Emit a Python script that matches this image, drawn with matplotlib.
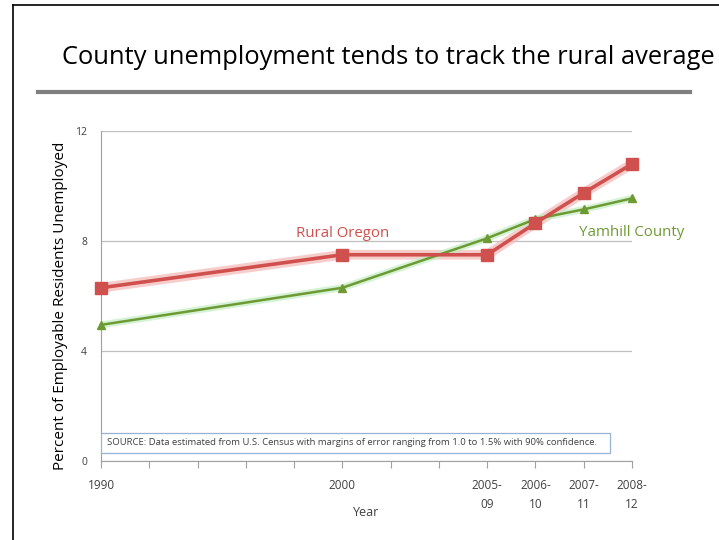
import matplotlib

matplotlib.use("Agg")
from matplotlib import pyplot as plt
from matplotlib.patches import Rectangle
from matplotlib.lines import Line2D

# category slots on the x axis (Excel-style axis with blank slots)
slot_labels = ["1990", "", "", "", "", "2000", "", "", "2005-\n09", "2006-\n10", "2007-\n11", "2008-\n12"]
year_slots = [0, 5, 8, 9, 10, 11]

rural_oregon = [6.3, 7.5, 7.5, 8.65, 9.75, 10.8]
yamhill_county = [4.95, 6.3, 8.1, 8.8, 9.15, 9.55]

y_ticks = [0, 4, 8, 12]

RED = "#D0504D"
RED_GLOW = "#F4B8B6"
GREEN = "#6E9A34"
GREEN_GLOW = "#C2EFC2"
FONT = ["Open Sans", "DejaVu Sans"]

plt.rcParams["font.family"] = FONT

fig = plt.figure(figsize=(7.19, 5.4), dpi=100)
W, H = 719, 540

# slide border (top and left edges)
fig.add_artist(Line2D([13 / W, 1], [1 - 5 / H, 1 - 5 / H], color="black", lw=1.2))
fig.add_artist(Line2D([13 / W, 13 / W], [0, 1 - 5 / H], color="black", lw=1.2))

# the slide title runs past the right edge in the original screenshot
fig.text(62 / W, 1 - 58 / H, "County unemployment tends to track the rural average",
         fontsize=18.4, color="black", va="center", ha="left")
fig.add_artist(Line2D([38 / W, 690 / W], [1 - 92 / H, 1 - 92 / H], color="#7F7F7F", lw=3))

ax = fig.add_axes([101 / W, 1 - 461 / H, (632 - 101) / W, (461 - 131) / H])

ax.set_xlim(0, len(slot_labels) - 1)
ax.set_ylim(0, 12)

ax.set_yticks(y_ticks)
ax.set_yticklabels([str(v) for v in y_ticks], fontsize=7.5, color="#404040")
ax.yaxis.grid(True, color="#BFBFBF", lw=0.9)
ax.set_axisbelow(True)

ax.set_xticks(range(len(slot_labels)))
ax.set_xticklabels(slot_labels, fontsize=8.5, color="#404040", linespacing=1.6, va="top")
ax.tick_params(axis="x", length=5, color="#A0A0A0", pad=8)
ax.tick_params(axis="y", length=0, pad=10)

for side in ["top", "right"]:
    ax.spines[side].set_visible(False)
for side in ["left", "bottom"]:
    ax.spines[side].set_color("#A0A0A0")

# glow under lines
ax.plot(year_slots, rural_oregon, color=RED_GLOW, lw=7, alpha=0.7, solid_capstyle="round", zorder=2)
ax.plot(year_slots, yamhill_county, color=GREEN_GLOW, lw=5, alpha=0.7, solid_capstyle="round", zorder=2)

ax.plot(year_slots, rural_oregon, color=RED, lw=2.6, marker="s", markersize=8.5, zorder=4, clip_on=False)
ax.plot(year_slots, yamhill_county, color=GREEN, lw=1.8, marker="^", markersize=6, zorder=3, clip_on=False)

ax.text(5, 8.0, "Rural Oregon", color=RED, fontsize=10.8, ha="center", va="bottom")
ax.text(11.0, 8.05, "Yamhill County", color=GREEN, fontsize=10.8, ha="center", va="bottom")

ax.set_xlabel("Year", fontsize=9, color="#404040")
ax.xaxis.set_label_coords(0.5, -0.135)
ax.set_ylabel("Percent of Employable Residents Unemployed", fontsize=11, color="black")
ax.yaxis.set_label_coords(-0.062, 0.47)

ax.add_patch(Rectangle((0.0, 0.3), 10.54, 0.72, fill=True, facecolor="white",
                       edgecolor="#95B3D7", lw=0.9, zorder=5))
ax.text(0.12, 0.66, "SOURCE: Data estimated from U.S. Census with margins of error ranging from 1.0 to 1.5% with 90% confidence.",
        fontsize=6.8, color="#404040", va="center", ha="left", zorder=6)

fig.savefig("out.png", dpi=100)
